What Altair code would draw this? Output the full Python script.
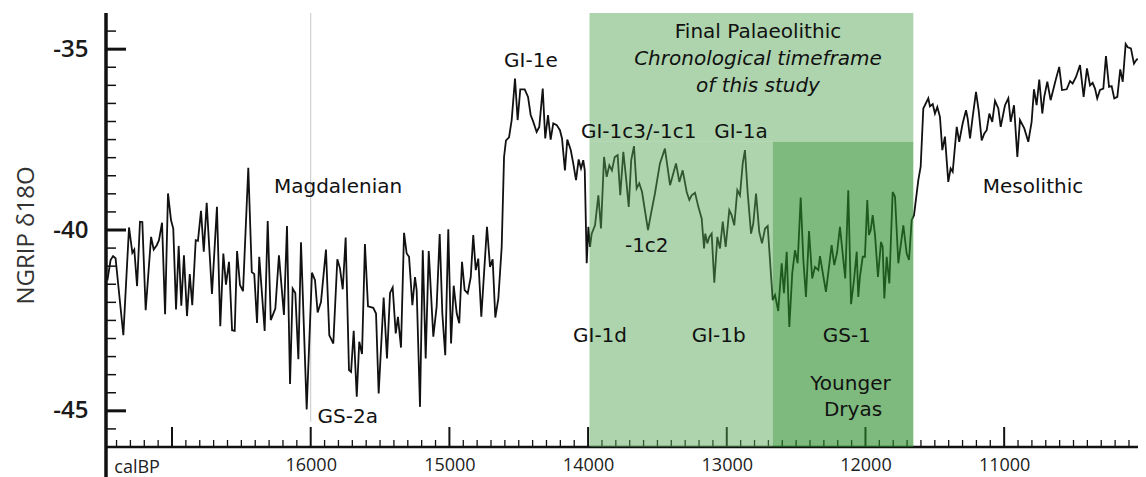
import altair as alt
import pandas as pd

# NGRIP d18O record (calBP, per mil)
YEARS = [
    17466, 17443, 17425, 17407, 17351, 17310, 17286, 17272, 17252, 17231,
    17214, 17190, 17151, 17132, 17110, 17094, 17072, 17050, 17029, 17007,
    16991, 16971, 16952, 16933, 16914, 16892, 16872, 16854, 16829, 16813,
    16791, 16771, 16750, 16712, 16676, 16652, 16630, 16611, 16589, 16567,
    16548, 16531, 16510, 16488, 16450, 16425, 16407, 16387, 16371, 16332,
    16310, 16288, 16255, 16229, 16193, 16171, 16149, 16130, 16111, 16089,
    16070, 16029, 15991, 15969, 15950, 15926, 15890, 15866, 15837, 15808,
    15789, 15769, 15748, 15724, 15709, 15690, 15668, 15650, 15630, 15609,
    15587, 15549, 15529, 15510, 15474, 15450, 15428, 15409, 15387, 15371,
    15349, 15327, 15308, 15291, 15267, 15248, 15236, 15212, 15192, 15171,
    15149, 15116, 15092, 15070, 15051, 15030, 15008, 14988, 14969, 14947,
    14929, 14909, 14890, 14868, 14846, 14828, 14810, 14792, 14770, 14729,
    14707, 14688, 14669, 14647, 14623, 14606, 14592, 14570, 14551, 14527,
    14508, 14489, 14457, 14433, 14414, 14395, 14371, 14352, 14327, 14309,
    14289, 14270, 14251, 14226, 14203, 14188, 14167, 14150, 14125, 14107,
    14087, 14068, 14051, 14035, 14024, 14010, 13998, 13986, 13974, 13950,
    13926, 13907, 13885, 13866, 13847, 13828, 13808, 13787, 13768, 13746,
    13727, 13707, 13689, 13669, 13650, 13631, 13611, 13568, 13546, 13518,
    13482, 13446, 13409, 13366, 13342, 13318, 13289, 13270, 13253, 13229,
    13205, 13181, 13164, 13155, 13140, 13126, 13109, 13090, 13068, 13049,
    13029, 13008, 12982, 12965, 12946, 12924, 12905, 12885, 12869, 12849,
    12825, 12809, 12789, 12766, 12746, 12724, 12705, 12669, 12652, 12629,
    12604, 12588, 12568, 12549, 12528, 12508, 12489, 12467, 12448, 12429,
    12407, 12384, 12364, 12340, 12328, 12285, 12244, 12225, 12205, 12184,
    12146, 12124, 12104, 12083, 12063, 12052, 12040, 12020, 12004, 11987,
    11975, 11962, 11948, 11931, 11910, 11888, 11876, 11864, 11847, 11828,
    11804, 11787, 11763, 11744, 11727, 11703, 11686, 11667, 11650, 11619,
    11602, 11583, 11547, 11535, 11515, 11499, 11482, 11463, 11446, 11427,
    11403, 11386, 11371, 11342, 11324, 11299, 11275, 11263, 11246, 11227,
    11203, 11184, 11162, 11143, 11126, 11107, 11086, 11066, 11042, 11025,
    10994, 10970, 10953, 10929, 10905, 10886, 10855, 10826, 10802, 10785,
    10766, 10747, 10725, 10711, 10689, 10665, 10629, 10603, 10583, 10549,
    10525, 10506, 10482, 10453, 10427, 10403, 10381, 10362, 10345, 10329,
    10309, 10285, 10266, 10244, 10225, 10206, 10184, 10163, 10145, 10124,
    10109, 10086, 10064, 10044, 10021, 10001, 9977,
]

D18O = [
    -41.39, -40.83, -40.72, -40.78, -42.91, -39.93, -40.63, -40.54, -41.55, -39.77,
    -39.78, -42.22, -40.19, -40.54, -40.42, -40.28, -39.80, -42.33, -38.99, -39.73,
    -39.96, -42.20, -40.44, -42.09, -40.70, -42.38, -41.22, -42.08, -40.28, -40.30,
    -39.47, -40.60, -39.25, -41.77, -39.36, -42.66, -40.65, -41.51, -40.88, -42.77,
    -42.79, -40.58, -41.52, -41.69, -38.28, -41.16, -41.22, -42.57, -40.74, -42.79,
    -39.75, -42.49, -42.17, -40.70, -42.35, -39.89, -44.26, -41.62, -41.74, -43.57,
    -40.34, -44.96, -41.18, -41.39, -42.28, -41.99, -40.54, -42.91, -43.14, -40.81,
    -41.06, -41.64, -40.21, -43.87, -43.92, -42.79, -44.61, -43.09, -43.43, -40.39,
    -42.11, -42.15, -42.31, -44.52, -41.87, -43.55, -41.74, -41.59, -42.86, -42.40,
    -43.25, -40.08, -40.65, -40.74, -42.08, -41.30, -41.66, -44.89, -40.56, -43.55,
    -40.58, -42.95, -42.12, -40.11, -42.31, -43.46, -39.98, -43.14, -41.54, -42.31,
    -42.58, -40.88, -41.66, -41.75, -41.30, -40.14, -41.11, -40.79, -42.40, -39.91,
    -41.02, -40.81, -42.42, -41.89, -40.47, -37.98, -37.52, -37.44, -36.96, -35.81,
    -36.96, -36.11, -36.11, -36.32, -36.82, -37.01, -37.29, -37.15, -36.09, -37.47,
    -36.82, -37.50, -37.05, -37.10, -37.24, -37.47, -38.35, -37.50, -37.79, -38.16,
    -38.62, -38.05, -38.30, -38.07, -38.35, -40.92, -39.91, -40.47, -40.10, -39.87,
    -39.04, -39.96, -37.98, -38.53, -38.21, -38.35, -37.98, -37.93, -39.04, -37.84,
    -38.53, -39.36, -38.07, -37.68, -38.85, -38.71, -38.95, -40.00, -39.54, -38.99,
    -38.16, -37.75, -38.76, -38.16, -38.67, -38.35, -38.95, -39.17, -39.04, -38.97,
    -39.36, -39.68, -40.51, -40.10, -40.37, -40.19, -40.10, -41.46, -40.19, -40.51,
    -39.77, -40.47, -39.45, -39.59, -39.87, -38.90, -39.04, -38.16, -37.79, -38.99,
    -40.10, -39.82, -38.99, -40.05, -40.37, -39.96, -39.89, -41.94, -41.80, -42.24,
    -40.92, -41.75, -40.60, -42.68, -41.20, -40.56, -40.92, -39.10, -40.83, -41.85,
    -40.03, -41.34, -41.02, -41.11, -40.72, -41.71, -40.42, -40.97, -40.63, -39.91,
    -41.34, -38.90, -42.05, -41.39, -40.60, -41.85, -41.30, -40.74, -40.74, -39.17,
    -40.14, -40.00, -39.59, -40.14, -41.30, -40.33, -40.47, -41.89, -40.74, -41.48,
    -38.95, -39.08, -40.92, -40.37, -39.87, -40.65, -40.83, -39.73, -39.59, -38.62,
    -38.25, -36.64, -36.36, -36.58, -36.52, -36.78, -36.60, -36.87, -37.79, -37.42,
    -38.67, -38.30, -38.39, -37.15, -37.56, -37.05, -36.69, -36.92, -37.47, -36.87,
    -36.18, -36.69, -37.52, -37.33, -37.24, -36.78, -37.01, -36.43, -36.64, -37.15,
    -36.55, -36.36, -37.01, -36.55, -37.98, -36.96, -37.19, -37.56, -37.01, -36.11,
    -36.55, -35.84, -36.78, -36.32, -35.90, -36.41, -35.86, -35.49, -36.13, -36.11,
    -35.88, -35.95, -35.77, -35.44, -36.32, -35.53, -36.00, -35.93, -36.09, -36.36,
    -36.13, -36.09, -35.19, -36.04, -36.02, -36.36, -36.32, -35.56, -35.90, -34.86,
    -34.95, -34.98, -35.40, -35.28, -35.28, -35.21, -35.22,
]

# axis ticks / labels
X_MAJOR = [17000, 16000, 15000, 14000, 13000, 12000, 11000]
X_LABELS = [16000, 15000, 14000, 13000, 12000, 11000]
X_MINOR = [v for v in range(10100, 17500, 100) if v % 1000 != 0]
Y_MAJOR = [-35, -40, -45]
Y_MINOR = [v / 2 for v in range(-91, -68) if v % 10 != 0]
GRID_X = [16000]

# shaded periods (calBP, d18O bounds)
LIGHT_X1 = [13990, 13990]
LIGHT_X2 = [11655, 12669]
LIGHT_Y1 = [-34.0, -46.0]
LIGHT_Y2 = [-37.56, -37.56]
DARK_X1 = [12669]
DARK_X2 = [11655]
DARK_Y1 = [-46.0]
DARK_Y2 = [-37.56]

# annotations
LABELS = ["Final Palaeolithic", "GI-1e", "GI-1c3/-1c1", "GI-1a", "Magdalenian",
          "Mesolithic", "-1c2", "GI-1d", "GI-1b", "GS-1", "Younger", "Dryas", "GS-2a"]
LABEL_X = [12775, 14412, 13635, 12898, 15803, 10792, 13577, 13914, 13058, 12135,
           12108, 12090, 15733]
LABEL_Y = [-34.70, -35.49, -37.47, -37.47, -38.98, -38.99, -40.60, -43.09, -43.09,
           -43.09, -44.43, -45.15, -45.34]
ITALIC_LABELS = ["Chronological timeframe", "of this study"]
ITALIC_X = [12775, 12775]
ITALIC_Y = [-35.44, -36.19]

W, H = 1032, 434
xs = alt.Scale(domain=[10035, 17476], reverse=True, nice=False, zero=False)
ys = alt.Scale(domain=[-46, -34], nice=False, zero=False)

series = pd.DataFrame({"year": YEARS, "d18o": D18O})

x_axis = alt.Axis(values=X_LABELS, format="d", domain=False, ticks=False, grid=False,
                  labelFont="Open Sans", labelFontSize=18, labelColor="#222",
                  labelPadding=9, title=None, labelFlush=False)
y_axis = alt.Axis(values=Y_MAJOR, domain=False, ticks=False, grid=False,
                  labelExpr="'-' + abs(datum.value)",
                  labelFont="Open Sans", labelFontSize=24, labelFontWeight=600,
                  labelColor="#1a1a1a", labelPadding=18, title="NGRIP δ18O",
                  titleFont="Open Sans", titleFontSize=24, titleFontWeight="normal",
                  titleColor="#333", titleX=-80, titleY=222, titleAngle=270,
                  titleAlign="center", titleBaseline="middle")


def X(field):
    return alt.X(field, scale=xs, axis=x_axis)


def Y(field):
    return alt.Y(field, scale=ys, axis=y_axis)


grid = alt.Chart(pd.DataFrame({"x": GRID_X, "top": [-34.0], "bot": [-45.3]})).mark_rule(
    color="#c8c8c8", strokeWidth=1).encode(x=X("x:Q"), y=Y("top:Q"), y2="bot:Q")

line = alt.Chart(series).mark_line(color="#111", strokeWidth=1.8, clip=True).encode(
    x=X("year:Q"), y=Y("d18o:Q"))

xmin = alt.Chart(pd.DataFrame({"t": X_MINOR})).mark_rule(color="#111", strokeWidth=1.3).encode(
    x=X("t:Q"), y=alt.value(H), y2=alt.value(H - 7))
xmaj = alt.Chart(pd.DataFrame({"t": X_MAJOR})).mark_rule(color="#111", strokeWidth=2).encode(
    x=X("t:Q"), y=alt.value(H), y2=alt.value(H - 20))
xline = alt.Chart(pd.DataFrame({"v": [-46.0]})).mark_rule(color="#111", strokeWidth=2.5).encode(
    y=Y("v:Q"), x=alt.value(0), x2=alt.value(W))

light = alt.Chart(pd.DataFrame({"x1": LIGHT_X1, "x2": LIGHT_X2, "y1": LIGHT_Y1, "y2": LIGHT_Y2})).mark_rect(
    color="#53a653", opacity=0.48).encode(x=X("x1:Q"), x2="x2:Q", y=Y("y1:Q"), y2="y2:Q")
dark = alt.Chart(pd.DataFrame({"x1": DARK_X1, "x2": DARK_X2, "y1": DARK_Y1, "y2": DARK_Y2})).mark_rect(
    color="#288c28", opacity=0.6).encode(x=X("x1:Q"), x2="x2:Q", y=Y("y1:Q"), y2="y2:Q")

ymin = alt.Chart(pd.DataFrame({"t": Y_MINOR})).mark_rule(color="#111", strokeWidth=1.5).encode(
    y=Y("t:Q"), x=alt.value(0), x2=alt.value(10))
ymaj = alt.Chart(pd.DataFrame({"t": Y_MAJOR})).mark_rule(color="#111", strokeWidth=3).encode(
    y=Y("t:Q"), x=alt.value(0), x2=alt.value(20))
yline = alt.Chart(pd.DataFrame({"v": [-34.0]})).mark_rule(color="#111", strokeWidth=3.5).encode(
    y=Y("v:Q"), y2=alt.value(H + 31), x=alt.value(0))

texts = alt.Chart(pd.DataFrame({"label": LABELS, "x": LABEL_X, "y": LABEL_Y})).mark_text(
    font="DejaVu Sans", fontSize=20, color="#111", align="center", baseline="alphabetic").encode(
    x=X("x:Q"), y=Y("y:Q"), text="label:N")
itexts = alt.Chart(pd.DataFrame({"label": ITALIC_LABELS, "x": ITALIC_X, "y": ITALIC_Y})).mark_text(
    font="DejaVu Sans", fontSize=20, fontStyle="italic", color="#111", align="center",
    baseline="alphabetic").encode(x=X("x:Q"), y=Y("y:Q"), text="label:N")
calbp = alt.Chart(pd.DataFrame({"label": ["calBP"], "x": [17252], "y": [-46.71]})).mark_text(
    font="Open Sans", fontSize=18, color="#222", align="center", baseline="alphabetic").encode(
    x=X("x:Q"), y=Y("y:Q"), text="label:N")

chart = alt.layer(grid, line, xmin, xmaj, xline, light, dark, ymin, ymaj, yline,
                  texts, itexts, calbp).properties(
    width=W, height=H,
    padding={"left": 98, "top": 5, "right": 0, "bottom": 30},
    autosize=alt.AutoSizeParams(type="none"),
).configure_view(stroke=None)

chart.save("out.html", embed_options={"renderer": "svg", "actions": False})
